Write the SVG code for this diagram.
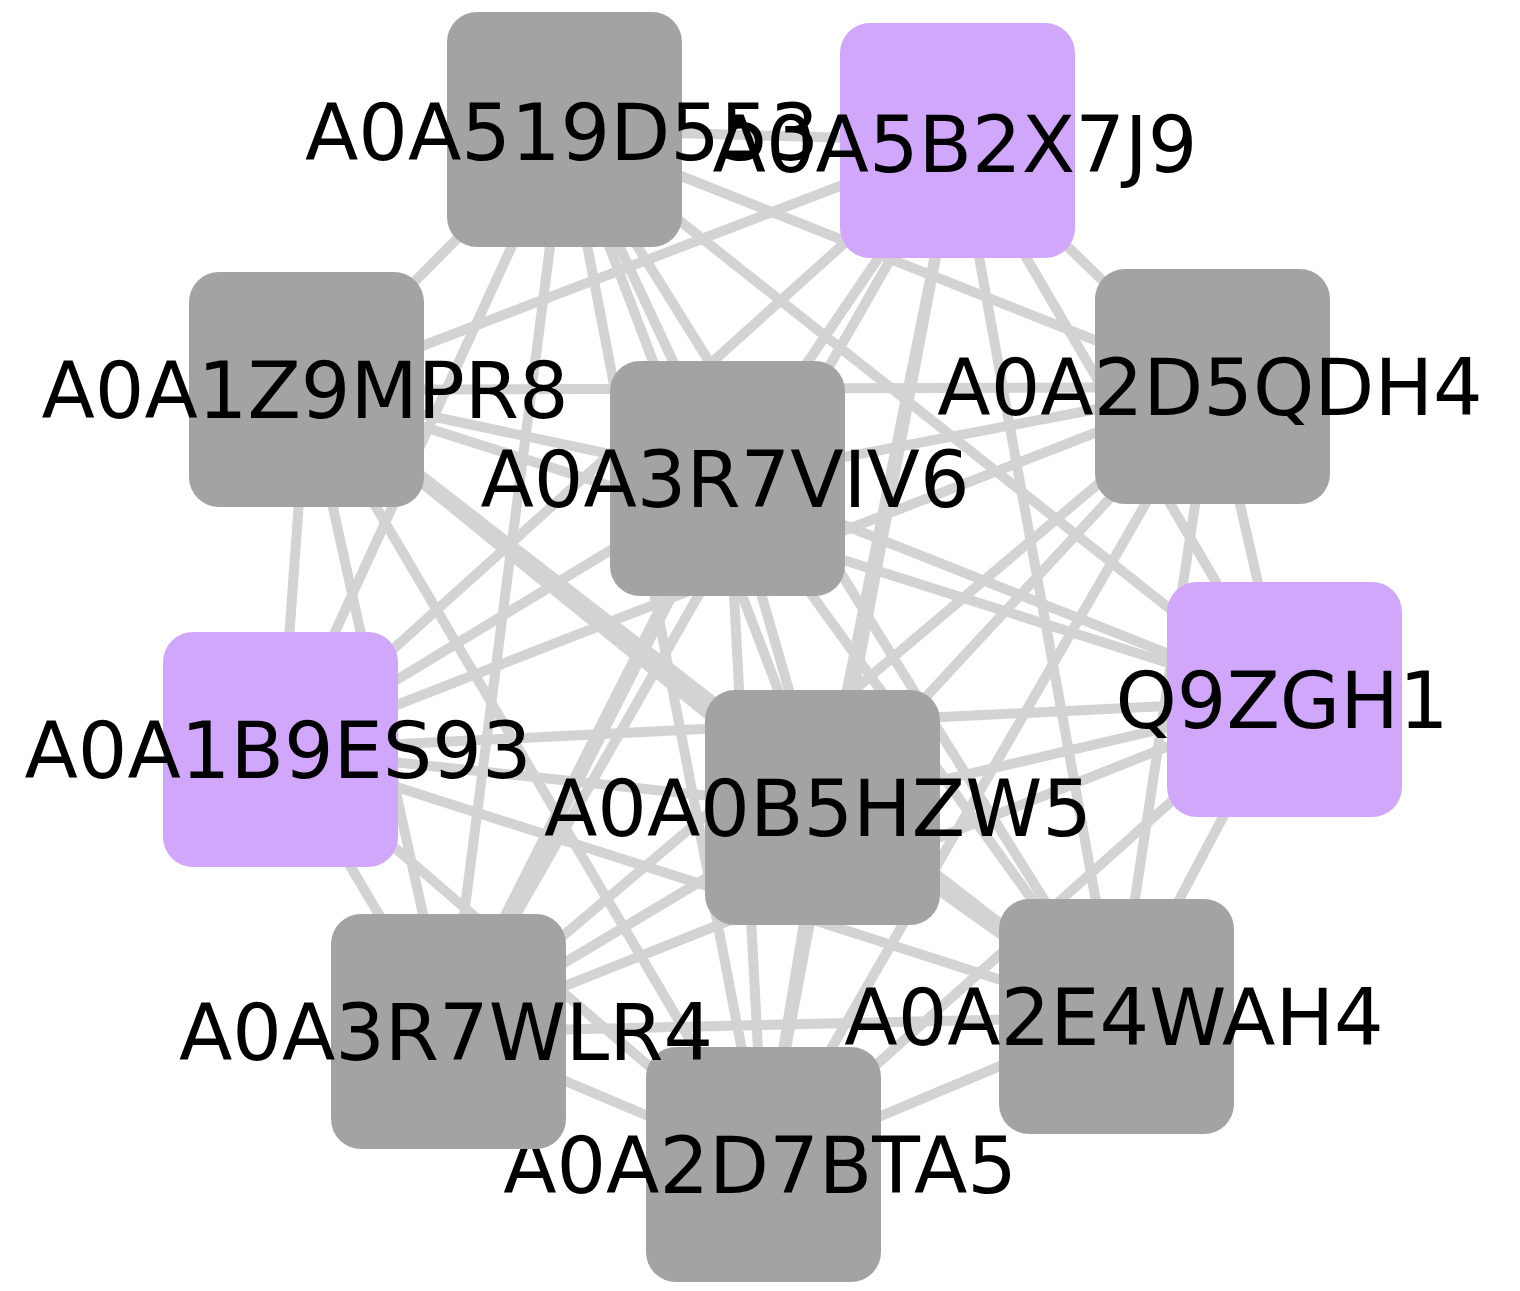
<svg xmlns="http://www.w3.org/2000/svg" width="1520" height="1291" viewBox="0 0 1520 1291">
<style>
.e{stroke:#d3d3d3;stroke-width:10;fill:none}
.t{stroke-width:15}
.n{fill:#a3a3a3}
.p{fill:#d1a7fc}
text{font-family:"DejaVu Sans",sans-serif;font-size:78px;fill:#000;text-anchor:middle}
</style>
<rect width="1520" height="1291" fill="#fff"/>
<g id="edges">
<line class="e" x1="565" y1="130" x2="958" y2="141"/>
<line class="e" x1="565" y1="130" x2="307" y2="390"/>
<line class="e" x1="565" y1="130" x2="1213" y2="387"/>
<line class="e" x1="565" y1="130" x2="728" y2="479"/>
<line class="e" x1="565" y1="130" x2="1285" y2="700"/>
<line class="e" x1="565" y1="130" x2="281" y2="750"/>
<line class="e" x1="565" y1="130" x2="823" y2="808"/>
<line class="e" x1="565" y1="130" x2="1117" y2="1017"/>
<line class="e" x1="565" y1="130" x2="449" y2="1032"/>
<line class="e" x1="565" y1="130" x2="764" y2="1165"/>
<line class="e" x1="958" y1="141" x2="307" y2="390"/>
<line class="e" x1="958" y1="141" x2="1213" y2="387"/>
<line class="e" x1="958" y1="141" x2="728" y2="479"/>
<line class="e" x1="958" y1="141" x2="1285" y2="700"/>
<line class="e" x1="958" y1="141" x2="281" y2="750"/>
<line class="e" x1="958" y1="141" x2="823" y2="808"/>
<line class="e" x1="958" y1="141" x2="1117" y2="1017"/>
<line class="e" x1="958" y1="141" x2="449" y2="1032"/>
<line class="e" x1="958" y1="141" x2="764" y2="1165"/>
<line class="e" x1="307" y1="390" x2="1213" y2="387"/>
<line class="e" x1="307" y1="390" x2="728" y2="479"/>
<line class="e" x1="307" y1="390" x2="1285" y2="700"/>
<line class="e" x1="307" y1="390" x2="281" y2="750"/>
<line class="e" x1="307" y1="390" x2="823" y2="808"/>
<line class="e t" x1="307" y1="390" x2="1117" y2="1017"/>
<line class="e" x1="307" y1="390" x2="449" y2="1032"/>
<line class="e" x1="307" y1="390" x2="764" y2="1165"/>
<line class="e" x1="1213" y1="387" x2="728" y2="479"/>
<line class="e" x1="1213" y1="387" x2="1285" y2="700"/>
<line class="e" x1="1213" y1="387" x2="281" y2="750"/>
<line class="e" x1="1213" y1="387" x2="823" y2="808"/>
<line class="e" x1="1213" y1="387" x2="1117" y2="1017"/>
<line class="e" x1="1213" y1="387" x2="449" y2="1032"/>
<line class="e" x1="1213" y1="387" x2="764" y2="1165"/>
<line class="e" x1="728" y1="479" x2="1285" y2="700"/>
<line class="e" x1="728" y1="479" x2="281" y2="750"/>
<line class="e" x1="728" y1="479" x2="823" y2="808"/>
<line class="e" x1="728" y1="479" x2="1117" y2="1017"/>
<line class="e t" x1="728" y1="479" x2="449" y2="1032"/>
<line class="e" x1="728" y1="479" x2="764" y2="1165"/>
<line class="e" x1="1285" y1="700" x2="281" y2="750"/>
<line class="e" x1="1285" y1="700" x2="823" y2="808"/>
<line class="e" x1="1285" y1="700" x2="1117" y2="1017"/>
<line class="e" x1="1285" y1="700" x2="449" y2="1032"/>
<line class="e" x1="1285" y1="700" x2="764" y2="1165"/>
<line class="e" x1="281" y1="750" x2="823" y2="808"/>
<line class="e" x1="281" y1="750" x2="1117" y2="1017"/>
<line class="e" x1="281" y1="750" x2="449" y2="1032"/>
<line class="e" x1="281" y1="750" x2="764" y2="1165"/>
<line class="e" x1="823" y1="808" x2="1117" y2="1017"/>
<line class="e" x1="823" y1="808" x2="449" y2="1032"/>
<line class="e" x1="823" y1="808" x2="764" y2="1165"/>
<line class="e" x1="1117" y1="1017" x2="449" y2="1032"/>
<line class="e" x1="1117" y1="1017" x2="764" y2="1165"/>
<line class="e" x1="449" y1="1032" x2="764" y2="1165"/>
</g>
<g id="n-A0A519D553"><rect class="n" x="447" y="12" width="235" height="235" rx="30"/><text x="562" y="160">A0A519D553</text></g>
<g id="n-A0A5B2X7J9"><rect class="p" x="840" y="23" width="235" height="235" rx="30"/><text x="955" y="172">A0A5B2X7J9</text></g>
<g id="n-A0A1Z9MPR8"><rect class="n" x="189" y="272" width="235" height="235" rx="30"/><text x="305" y="418">A0A1Z9MPR8</text></g>
<g id="n-A0A2D5QDH4"><rect class="n" x="1095" y="269" width="235" height="235" rx="30"/><text x="1210" y="415">A0A2D5QDH4</text></g>
<g id="n-A0A3R7VIV6"><rect class="n" x="610" y="361" width="235" height="235" rx="30"/><text x="725" y="507">A0A3R7VIV6</text></g>
<g id="n-Q9ZGH1"><rect class="p" x="1167" y="582" width="235" height="235" rx="30"/><text x="1282" y="728">Q9ZGH1</text></g>
<g id="n-A0A1B9ES93"><rect class="p" x="163" y="632" width="235" height="235" rx="30"/><text x="278" y="778">A0A1B9ES93</text></g>
<g id="n-A0A0B5HZW5"><rect class="n" x="705" y="690" width="235" height="235" rx="30"/><text x="818" y="836">A0A0B5HZW5</text></g>
<g id="n-A0A2E4WAH4"><rect class="n" x="999" y="899" width="235" height="235" rx="30"/><text x="1114" y="1045">A0A2E4WAH4</text></g>
<g id="n-A0A2D7BTA5"><rect class="n" x="646" y="1047" width="235" height="235" rx="30"/><text x="760" y="1193">A0A2D7BTA5</text></g>
<g id="n-A0A3R7WLR4"><rect class="n" x="331" y="914" width="235" height="235" rx="30"/><text x="446" y="1060">A0A3R7WLR4</text></g>
</svg>
